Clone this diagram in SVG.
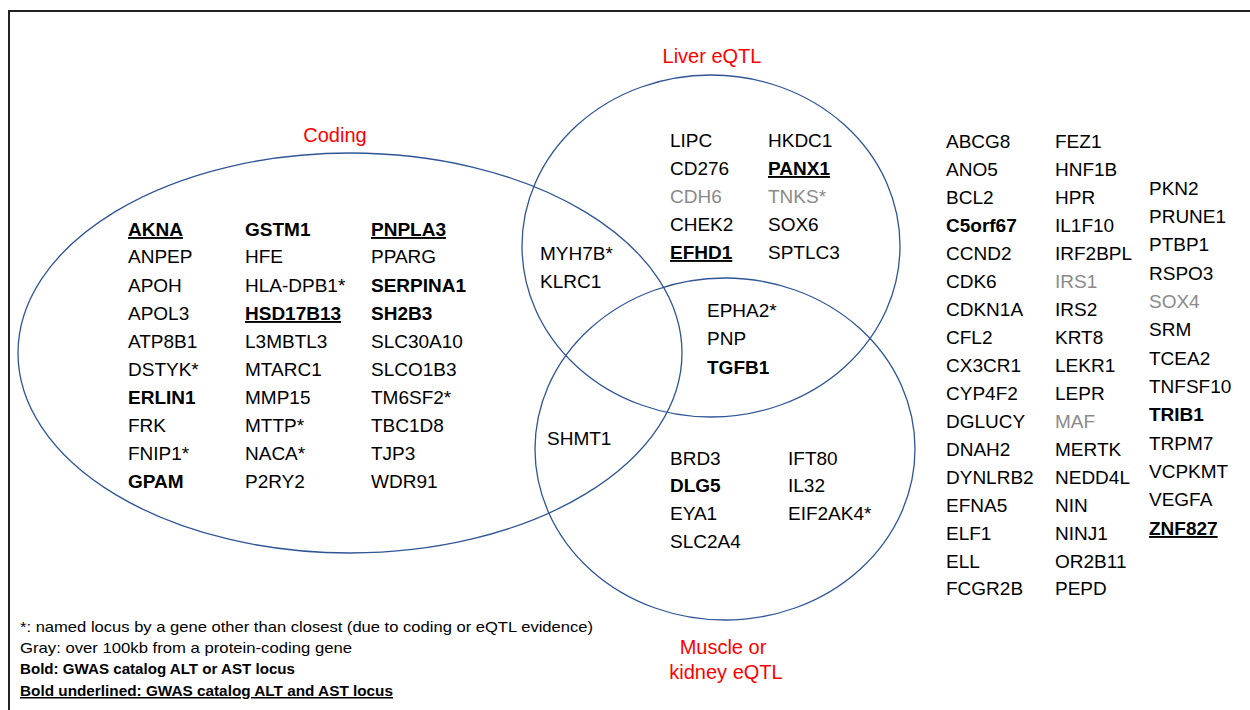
<svg xmlns="http://www.w3.org/2000/svg" width="1250" height="710" viewBox="0 0 1250 710">
<style>
.g{font-family:"Liberation Sans",Arial,sans-serif;font-size:19px;fill:#000}
.b{font-weight:bold}
.u{text-decoration:underline}
.gr{fill:#8a8a8a}
.lbl{font-family:"Liberation Sans",Arial,sans-serif;font-size:20px;fill:#ff0000;text-anchor:middle}
.fn{font-family:"Liberation Sans",Arial,sans-serif;font-size:15px;fill:#000}
.set{fill:none;stroke:#2f5597;stroke-width:1.3}
</style>
<rect width="1250" height="710" fill="#fff"/>
<path d="M9,710 V11 H1250" fill="none" stroke="#222" stroke-width="2"/>
<g id="sets">
<ellipse class="set" cx="350" cy="353" rx="332" ry="200"/>
<ellipse class="set" cx="711" cy="246" rx="189" ry="171"/>
<ellipse class="set" cx="725" cy="449" rx="190" ry="171"/>
</g>
<g id="labels">
<text class="lbl" x="712" y="63">Liver eQTL</text>
<text class="lbl" x="335" y="142">Coding</text>
<text class="lbl" x="723" y="654">Muscle or</text>
<text class="lbl" x="726" y="679">kidney eQTL</text>
</g>
<g id="coding">
<text class="g b u" x="128" y="236">AKNA</text>
<text class="g" x="128" y="263">ANPEP</text>
<text class="g" x="128" y="292">APOH</text>
<text class="g" x="128" y="320">APOL3</text>
<text class="g" x="128" y="348">ATP8B1</text>
<text class="g" x="128" y="376">DSTYK*</text>
<text class="g b" x="128" y="404">ERLIN1</text>
<text class="g" x="128" y="432">FRK</text>
<text class="g" x="128" y="460">FNIP1*</text>
<text class="g b" x="128" y="488">GPAM</text>
<text class="g b" x="245" y="236">GSTM1</text>
<text class="g" x="245" y="263">HFE</text>
<text class="g" x="245" y="292">HLA-DPB1*</text>
<text class="g b u" x="245" y="320">HSD17B13</text>
<text class="g" x="245" y="348">L3MBTL3</text>
<text class="g" x="245" y="376">MTARC1</text>
<text class="g" x="245" y="404">MMP15</text>
<text class="g" x="245" y="432">MTTP*</text>
<text class="g" x="245" y="460">NACA*</text>
<text class="g" x="245" y="488">P2RY2</text>
<text class="g b u" x="371" y="236">PNPLA3</text>
<text class="g" x="371" y="263">PPARG</text>
<text class="g b" x="371" y="292">SERPINA1</text>
<text class="g b" x="371" y="320">SH2B3</text>
<text class="g" x="371" y="348">SLC30A10</text>
<text class="g" x="371" y="376">SLCO1B3</text>
<text class="g" x="371" y="404">TM6SF2*</text>
<text class="g" x="371" y="432">TBC1D8</text>
<text class="g" x="371" y="460">TJP3</text>
<text class="g" x="371" y="488">WDR91</text>
</g>
<g id="liver">
<text class="g" x="670" y="147">LIPC</text>
<text class="g" x="670" y="175">CD276</text>
<text class="g gr" x="670" y="203">CDH6</text>
<text class="g" x="670" y="231">CHEK2</text>
<text class="g b u" x="670" y="259">EFHD1</text>
<text class="g" x="768" y="147">HKDC1</text>
<text class="g b u" x="768" y="175">PANX1</text>
<text class="g gr" x="768" y="203">TNKS*</text>
<text class="g" x="768" y="231">SOX6</text>
<text class="g" x="768" y="259">SPTLC3</text>
</g>
<g id="coding-liver">
<text class="g" x="540" y="260">MYH7B*</text>
<text class="g" x="540" y="288">KLRC1</text>
</g>
<g id="liver-muscle">
<text class="g" x="707" y="317">EPHA2*</text>
<text class="g" x="707" y="345">PNP</text>
<text class="g b" x="707" y="374">TGFB1</text>
</g>
<g id="coding-muscle">
<text class="g" x="547" y="445">SHMT1</text>
</g>
<g id="muscle">
<text class="g" x="670" y="465">BRD3</text>
<text class="g b" x="670" y="492">DLG5</text>
<text class="g" x="670" y="520">EYA1</text>
<text class="g" x="670" y="548">SLC2A4</text>
<text class="g" x="788" y="465">IFT80</text>
<text class="g" x="788" y="492">IL32</text>
<text class="g" x="788" y="520">EIF2AK4*</text>
</g>
<g id="other">
<text class="g" x="946" y="148">ABCG8</text>
<text class="g" x="946" y="176">ANO5</text>
<text class="g" x="946" y="204">BCL2</text>
<text class="g b" x="946" y="232">C5orf67</text>
<text class="g" x="946" y="260">CCND2</text>
<text class="g" x="946" y="288">CDK6</text>
<text class="g" x="946" y="316">CDKN1A</text>
<text class="g" x="946" y="344">CFL2</text>
<text class="g" x="946" y="372">CX3CR1</text>
<text class="g" x="946" y="400">CYP4F2</text>
<text class="g" x="946" y="428">DGLUCY</text>
<text class="g" x="946" y="456">DNAH2</text>
<text class="g" x="946" y="484">DYNLRB2</text>
<text class="g" x="946" y="512">EFNA5</text>
<text class="g" x="946" y="540">ELF1</text>
<text class="g" x="946" y="568">ELL</text>
<text class="g" x="946" y="595">FCGR2B</text>
<text class="g" x="1055" y="148">FEZ1</text>
<text class="g" x="1055" y="176">HNF1B</text>
<text class="g" x="1055" y="204">HPR</text>
<text class="g" x="1055" y="232">IL1F10</text>
<text class="g" x="1055" y="260">IRF2BPL</text>
<text class="g gr" x="1055" y="288">IRS1</text>
<text class="g" x="1055" y="316">IRS2</text>
<text class="g" x="1055" y="344">KRT8</text>
<text class="g" x="1055" y="372">LEKR1</text>
<text class="g" x="1055" y="400">LEPR</text>
<text class="g gr" x="1055" y="428">MAF</text>
<text class="g" x="1055" y="456">MERTK</text>
<text class="g" x="1055" y="484">NEDD4L</text>
<text class="g" x="1055" y="512">NIN</text>
<text class="g" x="1055" y="540">NINJ1</text>
<text class="g" x="1055" y="568">OR2B11</text>
<text class="g" x="1055" y="595">PEPD</text>
<text class="g" x="1149" y="195">PKN2</text>
<text class="g" x="1149" y="223">PRUNE1</text>
<text class="g" x="1149" y="251">PTBP1</text>
<text class="g" x="1149" y="280">RSPO3</text>
<text class="g gr" x="1149" y="308">SOX4</text>
<text class="g" x="1149" y="336">SRM</text>
<text class="g" x="1149" y="365">TCEA2</text>
<text class="g" x="1149" y="393">TNFSF10</text>
<text class="g b" x="1149" y="421">TRIB1</text>
<text class="g" x="1149" y="450">TRPM7</text>
<text class="g" x="1149" y="478">VCPKMT</text>
<text class="g" x="1149" y="506">VEGFA</text>
<text class="g b u" x="1149" y="535">ZNF827</text>
</g>
<g id="legend">
<text class="fn" x="20" y="632" textLength="573" lengthAdjust="spacingAndGlyphs">*: named locus by a gene other than closest (due to coding or eQTL evidence)</text>
<text class="fn" x="20" y="653" textLength="332" lengthAdjust="spacingAndGlyphs">Gray: over 100kb from a protein-coding gene</text>
<text class="fn b" x="20" y="674" textLength="275" lengthAdjust="spacingAndGlyphs">Bold: GWAS catalog ALT or AST locus</text>
<text class="fn b u" x="20" y="696" textLength="373" lengthAdjust="spacingAndGlyphs">Bold underlined: GWAS catalog ALT and AST locus</text>
</g>
</svg>
